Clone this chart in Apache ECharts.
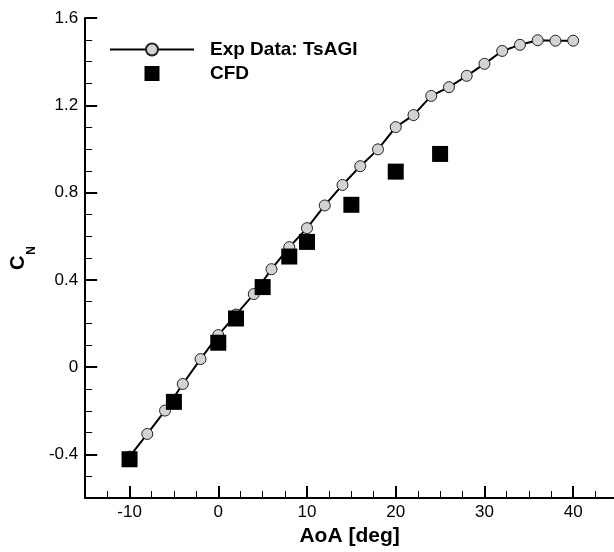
<!DOCTYPE html>
<html>
<head>
<meta charset="utf-8">
<script src="https://cdn.jsdelivr.net/npm/echarts@6/dist/echarts.min.js"></script>
<style>
html,body{margin:0;padding:0;background:#fff;}
#chart{width:614px;height:552px;}
</style>
</head>
<body>
<div id="chart"></div>
<script>
// Experimental data (TsAGI)
const expAoA = [-10,-8,-6,-4,-2,0,2,4,6,8,10,12,14,16,18,20,22,24,26,28,30,32,34,36,38,40];
const expCN  = [-0.41,-0.306,-0.199,-0.077,0.037,0.147,0.241,0.335,0.449,0.55,0.637,0.741,0.835,0.921,0.998,1.1,1.155,1.243,1.283,1.335,1.39,1.449,1.477,1.498,1.496,1.496];
// CFD results
const cfdAoA = [-10,-5,0,2,5,8,10,15,20,25];
const cfdCN  = [-0.422,-0.159,0.112,0.223,0.367,0.507,0.574,0.744,0.896,0.977];
// Axis ticks
const xMajorTicks = [-10,0,10,20,30,40];
const xMinorTicks = [-12.5,-10,-7.5,-5,-2.5,0,2.5,5,7.5,10,12.5,15,17.5,20,22.5,25,27.5,30,32.5,35,37.5,40,42.5];
const yMajorTicks = [-0.4,0,0.4,0.8,1.2,1.6];
const yMinorTicks = [-0.5,-0.4,-0.3,-0.2,-0.1,0,0.1,0.2,0.3,0.4,0.5,0.6,0.7,0.8,0.9,1.0,1.1,1.2,1.3,1.4,1.5,1.6];

const FONT = "'Liberation Sans', Arial, Helvetica, sans-serif";
const chart = echarts.init(document.getElementById('chart'), null, {renderer:'canvas'});

chart.setOption({
  animation: false,
  backgroundColor: '#fff',
  textStyle: {fontFamily: FONT},
  grid: {left: 85, right: 0, top: 18, bottom: 50, containLabel: false},
  legend: {
    orient: 'vertical', left: 109, top: 40, padding: 0,
    itemWidth: 84, itemHeight: 15, itemGap: 5,
    selectedMode: false,
    symbolKeepAspect: true,
    textStyle: {fontSize: 19, fontWeight: 'bold', color: '#000', fontFamily: FONT, padding: [0,0,0,11]},
    data: [{name: 'Exp Data: TsAGI'}, {name: 'CFD', icon: 'path://M0,0L10,0L10,10L0,10Z', itemStyle: {color: '#000', opacity: 1}}]
  },
  xAxis: [
    {
      type: 'value', min: -15, max: 44.6, position: 'bottom',
      name: 'AoA [deg]', nameLocation: 'middle', nameGap: 23,
      nameTextStyle: {fontSize: 21, fontWeight: 'bold', color: '#000', fontFamily: FONT},
      axisLine: {show: true, onZero: false, lineStyle: {color: '#000', width: 2}},
      axisTick: {show: true, inside: true, length: 12, customValues: xMajorTicks, lineStyle: {color: '#000', width: 2}},
      axisLabel: {show: true, customValues: xMajorTicks, margin: 6, fontSize: 17, color: '#000', fontFamily: FONT},
      splitLine: {show: false}
    },
    {
      type: 'value', min: -15, max: 44.6, position: 'bottom',
      axisLine: {show: false, onZero: false},
      axisTick: {show: true, inside: true, length: 7, customValues: xMinorTicks, lineStyle: {color: '#000', width: 1}},
      axisLabel: {show: false},
      splitLine: {show: false}
    }
  ],
  yAxis: [
    {
      type: 'value', min: -0.6, max: 1.6, position: 'left',
      name: '{c|C}{n|N}', nameLocation: 'middle', nameGap: 50, nameRotate: 90,
      nameTextStyle: {
        color: '#000', fontFamily: FONT,
        rich: {
          c: {fontSize: 20, fontWeight: 'bold', lineHeight: 20, verticalAlign: 'top', color: '#000', fontFamily: FONT},
          n: {fontSize: 12, fontWeight: 'bold', lineHeight: 12, verticalAlign: 'top', padding: [18,0,0,1], color: '#000', fontFamily: FONT}
        }
      },
      axisLine: {show: true, onZero: false, lineStyle: {color: '#000', width: 2}},
      axisTick: {show: true, inside: true, length: 12, customValues: yMajorTicks, lineStyle: {color: '#000', width: 2}},
      axisLabel: {show: true, customValues: yMajorTicks, margin: 7, fontSize: 17, color: '#000', fontFamily: FONT},
      splitLine: {show: false}
    },
    {
      type: 'value', min: -0.6, max: 1.6, position: 'left',
      axisLine: {show: false, onZero: false},
      axisTick: {show: true, inside: true, length: 7, customValues: yMinorTicks, lineStyle: {color: '#000', width: 1}},
      axisLabel: {show: false},
      splitLine: {show: false}
    }
  ],
  series: [
    {
      name: 'Exp Data: TsAGI', type: 'line', xAxisIndex: 0, yAxisIndex: 0,
      data: expAoA.map((x, i) => [x, expCN[i]]),
      symbol: 'circle', symbolSize: 11, showAllSymbol: true,
      lineStyle: {color: '#000', width: 2},
      itemStyle: {color: '#d3d3d3', borderColor: '#222', borderWidth: 1},
      emphasis: {disabled: true},
      z: 2
    },
    {
      name: 'CFD', type: 'scatter', xAxisIndex: 0, yAxisIndex: 0,
      data: cfdAoA.map((x, i) => [x, cfdCN[i]]),
      symbol: 'rect', symbolSize: 16, symbolKeepAspect: true,
      itemStyle: {color: '#000', opacity: 1},
      emphasis: {disabled: true},
      z: 3
    }
  ]
});
</script>
</body>
</html>
